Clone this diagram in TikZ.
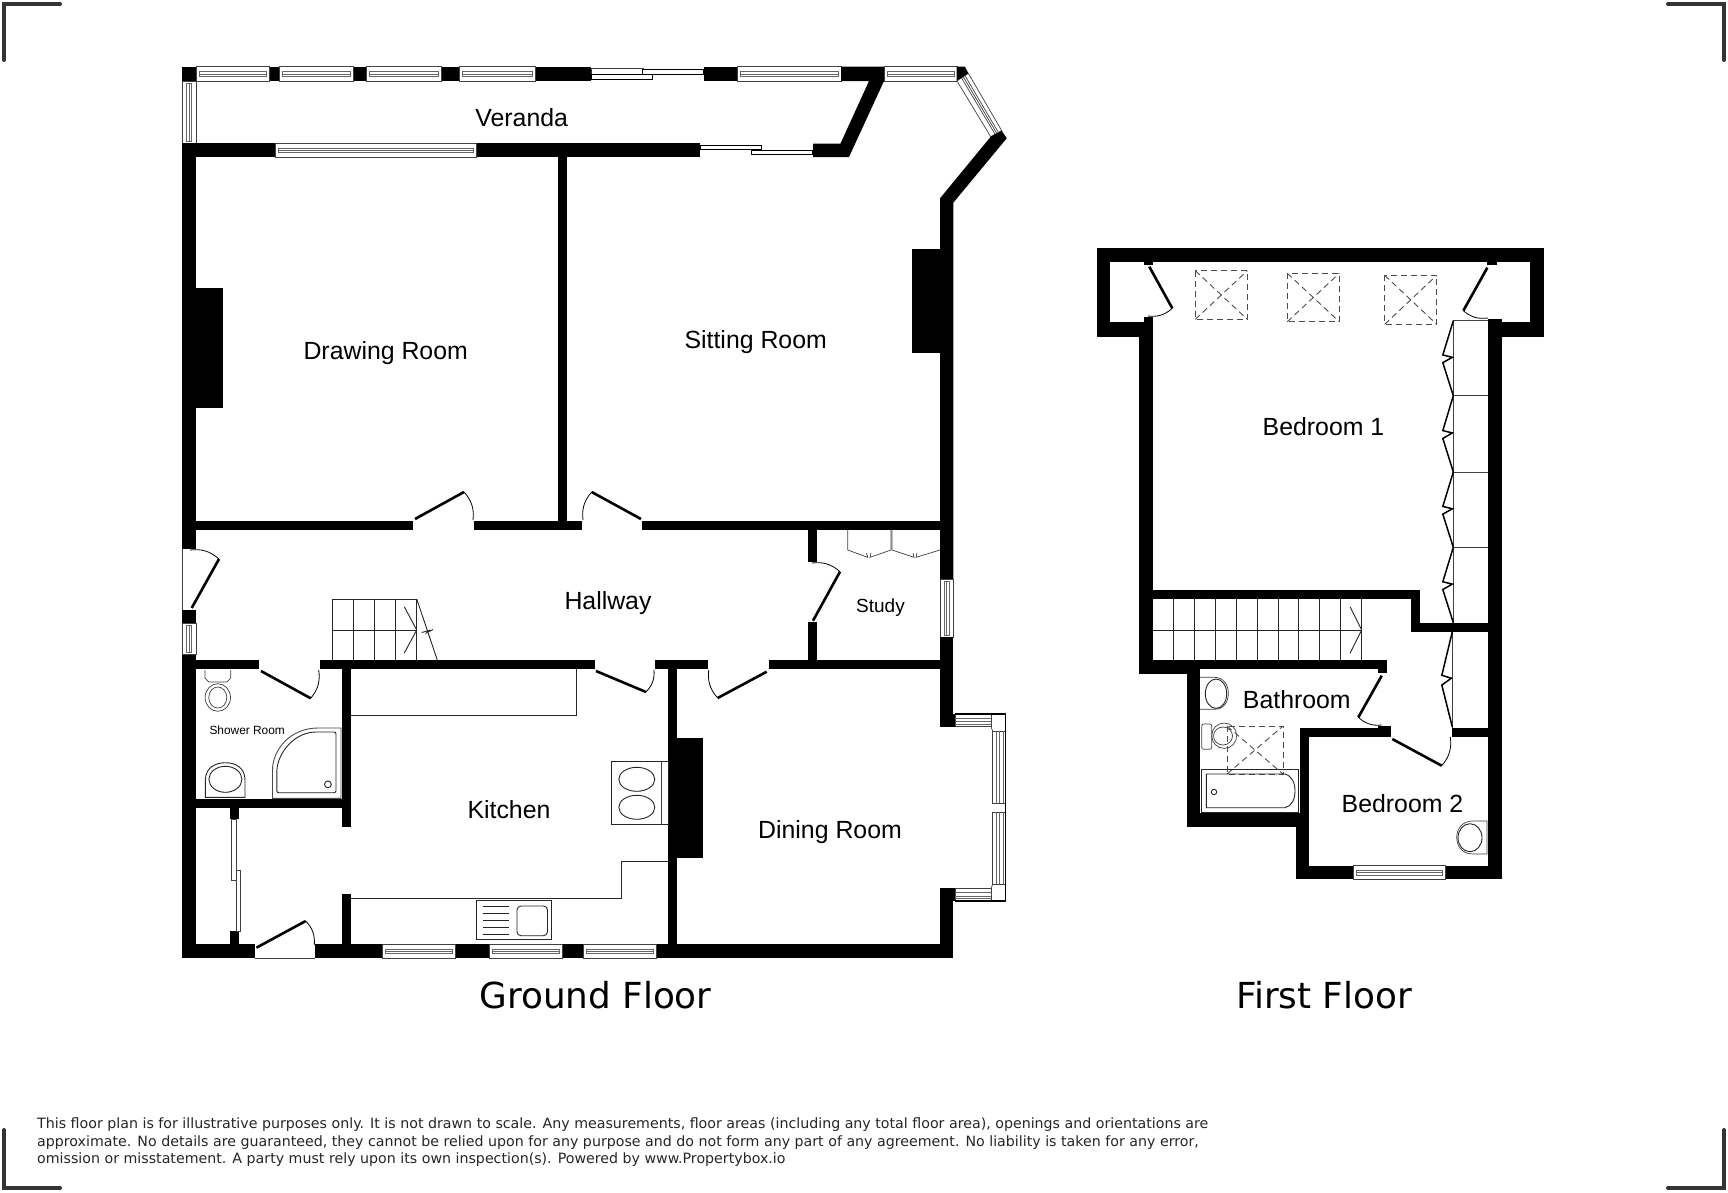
\documentclass[tikz,border=0pt]{standalone}
\usepackage{fontspec}
\setmainfont{Liberation Sans}
\newfontfamily\dejavu{DejaVu Sans}
\usetikzlibrary{calc}
\definecolor{markgrey}{HTML}{333333}
\definecolor{wingrey}{HTML}{404040}
\tikzset{
  wallfill/.style={fill=black,draw=none},
  winline/.style={draw=wingrey,line width=0.8pt},
  wininner/.style={draw=black!60,line width=0.6pt},
  fixture/.style={draw=black!85,line width=0.9pt},
  thinline/.style={draw=black!75,line width=0.7pt},
  leaf/.style={draw=black,line width=2.6pt},
  swing/.style={draw=black,line width=0.8pt},
  skylight/.style={draw=black!70,line width=0.9pt,dash pattern=on 6pt off 4pt},
  foldleaf/.style={draw=black,line width=1.5pt,line join=miter},
  cropmark/.style={draw=markgrey,line width=4pt,line cap=round},
  roomlabel/.style={inner sep=0pt,font=\fontsize{24.85}{26}\selectfont},
  floorlabel/.style={inner sep=0pt,font=\dejavu\fontsize{35.8}{38}\selectfont},
}
\newcommand{\wl}[4]{\fill[wallfill] (#1,#2) rectangle (#3,#4);}
\newcommand{\winH}[4]{%
  \draw[winline,fill=white] (#1,#3) rectangle (#2,#4);
  \draw[wininner] ({#1+3},{(#3+#4)/2-2.3}) rectangle ({#2-3},{(#3+#4)/2+2.3});
  \draw[wininner,line width=0.4pt] ({#1+3},{(#3+#4)/2}) -- ({#2-3},{(#3+#4)/2});}
\newcommand{\winV}[4]{%
  \draw[winline,fill=white] (#1,#3) rectangle (#2,#4);
  \draw[wininner] ({(#1+#2)/2-2.3},{#3+2}) rectangle ({(#1+#2)/2+2.3},{#4-2});
  \draw[wininner,line width=0.4pt] ({(#1+#2)/2},{#3+2}) -- ({(#1+#2)/2},{#4-2});}
\newcommand{\bayH}[4]{%
  \draw[winline,fill=white] (#1,#3) rectangle (#2,#4);
  \foreach \f in {.34,.6,.82}{\draw[wininner] (#1,{#3+\f*(#4-#3)}) -- (#2,{#3+\f*(#4-#3)});}}
\newcommand{\bayV}[4]{%
  \draw[winline,fill=white] (#1,#3) rectangle (#2,#4);
  \foreach \f in {.25,.5,.8}{\draw[wininner] ({#1+\f*(#2-#1)},#3) -- ({#1+\f*(#2-#1)},#4);}}
% hinge, tip, jamb, bend direction
\newcommand{\doorleaf}[7]{%
  \draw[leaf] (#1,#2) -- (#3,#4);
  \draw[swing] (#3,#4) to[bend #7=24] (#5,#6);}
\newcommand{\bifold}[3]{%
  \draw[foldleaf] (#1,#2) -- ({#1-10.5},{#2+.457*(#3-#2)}) -- ({#1-1},{#2+.488*(#3-#2)})
     -- ({#1-10.5},{#2+.56*(#3-#2)}) -- (#1,#3);}
\newcommand{\velux}[4]{%
  \draw[skylight] (#1,#2) rectangle (#3,#4);
  \draw[skylight] (#1,#2) -- (#3,#4);
  \draw[skylight] (#1,#4) -- (#3,#2);}
\begin{document}
\begin{tikzpicture}[x=1pt,y=-1pt]
\useasboundingbox (0,0) rectangle (1728,1192);
\fill[white] (0,0) rectangle (1728,1192);

% crop marks
\draw[cropmark] (4,60) -- (4,4) -- (60,4);
\draw[cropmark] (1668,4) -- (1724,4) -- (1724,60);
\draw[cropmark] (4,1130) -- (4,1188) -- (60,1188);
\draw[cropmark] (1668,1188) -- (1724,1188) -- (1724,1130);

%%% GROUND FLOOR
% top row
\wl{182}{66.7}{196.7}{81}
\wl{269.7}{66.7}{279}{81}
\wl{353}{66.7}{366.7}{81}
\wl{441}{66.7}{459.5}{81}
\wl{535}{66.7}{591}{81}
\wl{703.5}{66.7}{737}{81}
\winH{196.7}{269.7}{66.7}{81}
\winH{279}{353}{66.7}{81}
\winH{366.7}{441}{66.7}{81}
\winH{459.5}{535}{66.7}{81}
\winH{737}{841}{66.7}{81}
\winH{884}{957}{66.7}{81}
\winV{182}{196}{81}{143.5}
% top sliding door
\draw[winline,fill=white] (591,68) rectangle (643,74.3);
\draw[draw=black,line width=1pt,fill=white] (591,74.3) rectangle (652.3,79);
\draw[draw=black,line width=1pt,fill=white] (642.7,69) rectangle (703.5,74.3);
% veranda end wall
\fill[wallfill] (841,66.7) -- (884,66.7) -- (884,81) -- (849,157) -- (813,157) -- (813,143.5)
  -- (840.5,143.5) -- (869,81) -- (841,81) -- cycle;
% second sliding door
\draw[draw=black,line width=1pt,fill=white] (700,145.7) rectangle (761,149.7);
\draw[draw=black,line width=1pt,fill=white] (751.7,150.3) rectangle (812.7,154.3);
% bay
\coordinate (wa) at (957,81);
\coordinate (wb) at (990.7,136.7);
\coordinate (wc) at (968.3,73.3);
\coordinate (wd) at (1001.7,130.7);
\draw[thinline,fill=white] (wa) -- (wb) -- (wd) -- (wc) -- cycle;
\foreach \f in {.4,.55,.7}{\draw[thinline] ($(wa)!\f!(wc)$) -- ($(wb)!\f!(wd)$);}
\fill[wallfill] (956.7,66.7) -- (965,66.7) -- (968.3,73.3) -- (956.7,80.7) -- cycle;
\fill[wallfill] (990.7,136.7) -- (1001.7,130.7) -- (1006.7,138.3) -- (953.3,202.7) -- (953.3,579)
  -- (940,579) -- (940,198.3) -- cycle;
\wl{911.7}{249}{940}{353.3}
% veranda inner wall
\wl{182}{143.3}{275}{157}
\wl{476}{143.3}{700}{157}
\winH{275}{476}{143.3}{157.5}
% left wall
\wl{182}{143}{195.7}{549}
\wl{182}{610}{195.7}{623.3}
\wl{182}{654}{195.7}{958}
\wl{195.7}{287.7}{223}{408.3}
\draw[thinline] (182,549) -- (182,610);
\winV{182}{196}{623.3}{654}
% hall walls
\wl{557.7}{157}{567}{521}
\wl{195.7}{520.7}{413}{530}
\wl{474}{520.7}{581.7}{530}
\wl{642}{520.7}{940}{530}
\wl{195.7}{660}{259}{669.3}
\wl{320}{660}{595}{669.3}
\wl{655}{660}{708}{669.3}
\wl{769}{660}{940}{669.3}
\wl{808}{530}{817}{561.7}
\wl{808}{622}{817}{660}
\wl{341.7}{669}{350.7}{827.3}
\wl{341.7}{894}{350.7}{945}
\wl{667.7}{669}{677}{945}
\wl{677}{737.7}{703}{857.7}
\wl{195.7}{799}{342}{808}
% lobby partition
\wl{229.6}{808}{238.6}{819.3}
\wl{229.6}{931.3}{238.6}{945}
\draw[winline,fill=white] (231.8,819.3) rectangle (236,880);
\draw[winline,fill=white] (236.4,870.7) rectangle (240.7,931.3);
% right wall
\winV{940}{953.3}{579}{637}
\wl{940}{637}{953.3}{726.7}
\wl{940}{888.3}{953.3}{958}
\wl{953}{714}{955}{726.7}
\wl{953}{888.3}{955}{901}
% bay window
\bayH{955}{991}{714}{726.7}
\bayH{955}{991}{888.3}{901}
\bayV{992.7}{1005.7}{731}{803.3}
\bayV{992.7}{1005.7}{812.3}{884.3}
\draw[draw=black,line width=1.3pt] (955,714) -- (1005.7,714) -- (1005.7,901) -- (955,901);
\draw[thinline] (991,726.7) -- (992.7,731);
\draw[thinline] (991,888.3) -- (992.7,884.3);
% bottom wall
\wl{182}{944.3}{254.6}{958}
\wl{315.4}{944.3}{382.5}{958}
\wl{455.4}{944.3}{489.3}{958}
\wl{562}{944.3}{583}{958}
\wl{656}{944.3}{953.3}{958}
\winH{382.5}{455.4}{944.3}{958}
\winH{489.3}{562}{944.3}{958}
\winH{583}{656}{944.3}{958}
\draw[thinline] (254.6,958) -- (315.4,958);
% doors
\doorleaf{415}{519}{464}{492}{473}{520}{left}
\doorleaf{641}{519}{591.7}{492}{583}{520}{right}
\doorleaf{191.7}{608}{219}{559}{190}{550}{right}
\doorleaf{261}{671}{310.7}{698.3}{318.7}{670}{right}
\doorleaf{596}{671}{646}{692}{654}{669.5}{right}
\doorleaf{766.7}{671.7}{717.7}{698}{708.7}{670}{left}
\doorleaf{813}{620.7}{840}{571.7}{812}{563}{right}
\doorleaf{256.4}{947.7}{305.7}{921}{314.3}{945}{left}
% stairs
\foreach \x in {332.3,353.7,374.7,395.7,416.7}{\draw[fixture] (\x,599) -- (\x,660);}
\draw[fixture] (332.3,599) -- (416.7,599);
\draw[fixture] (332.3,630) -- (416.7,630);
\draw[fixture] (416.7,599) -- (437.3,660);
\draw[fixture] (404.3,606.7) -- (416.7,630) -- (404.3,653);
\draw[fixture] (421.7,632.5) -- (429,630.5) -- (427,632.5) -- (433,629.5);
% kitchen
\draw[fixture] (576,669) -- (576,715) -- (350.7,715);
\draw[fixture] (351,898.3) -- (621.8,898.3) -- (621.8,861.7) -- (668,861.7);
\draw[fixture] (611,761.3) rectangle (668,824.3);
\draw[thinline] (661.8,761.3) -- (661.8,824.3);
\draw[fixture] (636.8,779.3) ellipse (18 and 12);
\draw[fixture] (636.8,807.3) ellipse (18 and 12);
\draw[fixture] (476.8,900.3) rectangle (551.8,939.3);
\draw[fixture,rounded corners=4pt] (517,906) rectangle (547.5,935.7);
\foreach \y in {906,913,920.3,927.3,934.3}{\draw[fixture] (482.5,\y) -- (509,\y);}
% shower room
\draw[thinline] (205,670) -- (205,678) -- (209,682) -- (227,682) -- (230.7,678) -- (230.7,670);
\draw[thinline] (217.8,697.5) ellipse (12.7 and 13.8);
\draw[thinline] (217.8,697.5) ellipse (9 and 10.5);
\draw[fixture,draw=black!70] (272.5,798.3) -- (272.5,770) .. controls (272.5,750) and (290,728) .. (318,728)
  -- (341,728) -- (341,798.3) -- cycle;
\draw[fixture,rounded corners=2pt] (276.8,792.7) -- (276.8,772) .. controls (278,752) and (295,732) .. (318,732)
  -- (336,732) -- (336,792.7) -- cycle;
\draw[fixture] (327.9,784.3) circle (3.4);
\draw[fixture] (205.4,797.3) -- (205.4,780) .. controls (205.4,768) and (215,762.7) .. (225.4,762.7)
  .. controls (236,762.7) and (245,768) .. (245,780) -- (245,797.3) -- cycle;
\draw[fixture] (225.4,779.3) ellipse (16.5 and 13);
% study cupboards
\draw[thinline] (847.7,530) -- (847.7,550) -- (867.7,557.3) -- (866.5,553) (871,553) -- (870,557.3) -- (891,550) -- (891,530);
\draw[thinline] (892,530) -- (892,550) -- (914,557.3) -- (913,553) (917,553) -- (916,557.3) -- (940,550);

%%% FIRST FLOOR
\wl{1096.7}{247.7}{1544}{261.7}
\wl{1096.7}{247.7}{1110}{336.7}
\wl{1096.7}{322.3}{1144}{336.7}
\wl{1144}{316.7}{1152.7}{336.7}
\wl{1139.3}{336.7}{1153}{674}
\wl{1530}{247.7}{1544}{336.7}
\wl{1487.7}{322.3}{1544}{336.7}
\wl{1487.7}{319}{1501.7}{879.3}
\wl{1144}{261.7}{1153}{265}
\wl{1487.3}{261.7}{1496.7}{265}
\wl{1153}{590}{1420}{599.3}
\wl{1411}{590}{1420}{631.7}
\wl{1411}{622.7}{1487.7}{631.7}
\wl{1139.3}{660}{1387.3}{669}
\wl{1378.3}{669}{1387.3}{673.3}
\wl{1139.3}{669}{1200}{674}
\wl{1186.7}{669}{1200}{827.3}
\wl{1186.7}{813.3}{1300.3}{827.3}
\wl{1300.3}{728.3}{1309.3}{813.3}
\wl{1295.7}{813.3}{1309.3}{879.3}
\wl{1300.3}{728.3}{1390.7}{737}
\wl{1378}{726}{1390.7}{728.3}
\wl{1451.7}{728.3}{1487.7}{737}
\wl{1295.7}{865.7}{1353.3}{879.3}
\wl{1445}{865.7}{1501.7}{879.3}
\winH{1353.3}{1445}{865.7}{879.3}
% doors
\doorleaf{1149.3}{266.7}{1172.3}{308.3}{1148}{316}{left}
\doorleaf{1487.3}{267.7}{1463.3}{310.7}{1488}{318}{right}
\doorleaf{1381.7}{675.7}{1358.3}{717.3}{1381.7}{725}{right}
\doorleaf{1392.3}{739}{1441.7}{765.7}{1450.3}{737}{right}
% skylights
\velux{1195.3}{270.7}{1247.3}{319.3}
\velux{1287.3}{273.3}{1339.3}{321.7}
\velux{1384.7}{275.3}{1436.7}{324.3}
% wardrobes
\draw[thinline] (1453.3,320.7) -- (1453.3,622.7);
\foreach \y in {320.7,395.7,472,547.3}{\draw[thinline] (1453.3,\y) -- (1487.7,\y);}
\bifold{1453.3}{320.7}{395.7}
\bifold{1453.3}{395.7}{472}
\bifold{1453.3}{472}{547.3}
\bifold{1453.3}{547.3}{622.7}
\draw[thinline] (1452.3,631.7) -- (1452.3,728);
\bifold{1452.3}{631.7}{727}
% stairs
\foreach \x in {1173.3,1194,1215,1236,1257,1278,1298.7,1319.7,1340.7,1361.7}{\draw[fixture] (\x,599.3) -- (\x,660);}
\draw[fixture] (1153,630) -- (1361.7,630);
\draw[fixture] (1350,606.7) -- (1361.7,630) -- (1350,653.3);
% bathroom
\draw[thinline] (1200,677.3) -- (1214,677.3) .. controls (1224,677.3) and (1228.3,685) .. (1228.3,693.3)
  .. controls (1228.3,702) and (1224,709.3) .. (1214,709.3) -- (1200,709.3);
\draw[fixture] (1216,693.7) ellipse (10.7 and 14.7);
\draw[thinline,rounded corners=2pt] (1211.7,724) -- (1201.7,724) -- (1201.7,749.3) -- (1211.7,749.3) -- cycle;
\draw[thinline] (1224.2,735.7) ellipse (12.5 and 12.7);
\draw[thinline] (1223,736) ellipse (9.5 and 9);
\velux{1227}{726}{1283}{774}
\draw[fixture] (1201.2,769) rectangle (1298.5,812.6);
\draw[fixture] (1206.3,774) -- (1285,774) .. controls (1292,776) and (1295,783) .. (1295,791)
  .. controls (1295,799) and (1292,806) .. (1285,807.7) -- (1206.3,807.7) -- cycle;
\draw[fixture] (1214,792) circle (2.7);
% bedroom 2 basin
\draw[thinline] (1487,821) -- (1473,821) .. controls (1462,821) and (1456.7,829) .. (1456.7,837.5)
  .. controls (1456.7,846) and (1462,854) .. (1473,854) -- (1487,854) -- cycle;
\draw[fixture] (1470,837.7) ellipse (12 and 14);

%%% LABELS
\node[roomlabel] (veranda) at (521.7,117.5) {Veranda};
\node[roomlabel] (drawing) at (385.7,353.3) {Drawing Room};
\node[roomlabel] (sitting) at (755.7,342.2) {Sitting Room};
\node[roomlabel] (hallway) at (608,603.5) {Hallway};
\node[roomlabel,font=\fontsize{19}{21}\selectfont] (study) at (880.5,607.5) {Study};
\node[inner sep=0pt,font=\fontsize{11.9}{14}\selectfont] (shower) at (247.2,730.5) {Shower Room};
\node[roomlabel] (kitchen) at (509,810) {Kitchen};
\node[roomlabel] (dining) at (830,832) {Dining Room};
\node[roomlabel] (bed1) at (1323.5,427) {Bedroom 1};
\node[roomlabel] (bath) at (1296.8,700) {Bathroom};
\node[roomlabel] (bed2) at (1402.5,804) {Bedroom 2};
\node[floorlabel] (gf) at (595.5,995.2) {Ground Floor};
\node[floorlabel] (ff) at (1324,995.2) {First Floor};
\node[inner sep=0pt,anchor=north west,align=left,text=black!85,font=\dejavu\fontsize{14.2}{17.6}\selectfont] (note) at (37,1117.5)
{This floor plan is for illustrative purposes only. It is not drawn to scale. Any measurements, floor areas (including any total floor area), openings and orientations are\\
approximate. No details are guaranteed, they cannot be relied upon for any purpose and do not form any part of any agreement. No liability is taken for any error,\\
omission or misstatement. A party must rely upon its own inspection(s). Powered by www.Propertybox.io};
\end{tikzpicture}
\end{document}
